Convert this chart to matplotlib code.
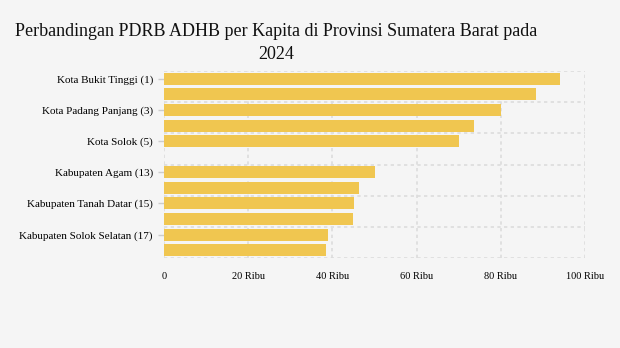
import numpy as np
import matplotlib.pyplot as plt

# data (PDRB ADHB per kapita, ribu rupiah...)
wilayah = [
    "Kota Bukit Tinggi (1)", "Kota Padang (2)", "Kota Padang Panjang (3)",
    "Kota Sawahlunto (4)", "Kota Solok (5)", "",
    "Kabupaten Agam (13)", "Kabupaten Sijunjung (14)", "Kabupaten Tanah Datar (15)",
    "Kabupaten Pesisir Selatan (16)", "Kabupaten Solok Selatan (17)",
    "Kabupaten Kepulauan Mentawai (18)",
]
nilai = [94.1, 88.4, 80.0, 73.6, 70.1, np.nan, 50.1, 46.3, 45.1, 44.9, 39.0, 38.5]
xticks = [0, 20, 40, 60, 80, 100]
xlabels = ["0", "20 Ribu", "40 Ribu", "60 Ribu", "80 Ribu", "100 Ribu"]

bg = "#f5f5f5"
plt.rcParams['font.family'] = ['Liberation Serif', 'DejaVu Serif']

fig = plt.figure(figsize=(6.2, 3.48), dpi=100, facecolor=bg)
ax = fig.add_axes([164/620, 1 - 258/348, (585 - 164)/620, (258 - 71)/348])
ax.set_facecolor(bg)

y = np.arange(len(wilayah))
ax.barh(y, nilai, height=0.77, color="#f0c650", zorder=2)

ax.set_ylim(len(wilayah) - 0.5, -0.5)
ax.set_xlim(0, 100)

ax.set_yticks(y[::2])
ax.set_yticklabels(wilayah[::2], fontsize=8)
ax.tick_params(axis='y', length=4, color="#cccccc", width=1, pad=4)
ax.set_xticks(xticks)
ax.set_xticklabels(xlabels, fontsize=7.5)
ax.tick_params(axis='x', length=0, pad=10)

# grid: vertical at x ticks, horizontal between pairs of categories
for xv in xticks:
    ax.axvline(xv, color="#dcdcdc", lw=1.2, ls=(0, (2, 2)), zorder=1)
for yv in np.arange(-0.5, len(wilayah), 2):
    ax.axhline(yv, color="#dcdcdc", lw=1.2, ls=(0, (2, 2)), zorder=1)
for s in ax.spines.values():
    s.set_visible(False)

fig.text(276/620, 1 - 43/348,
         "Perbandingan PDRB ADHB per Kapita di Provinsi Sumatera Barat pada\n2024",
         ha="center", va="center", fontsize=13, linespacing=1.4, color="#111111")

fig.savefig("out.png", dpi=100, facecolor=bg)
